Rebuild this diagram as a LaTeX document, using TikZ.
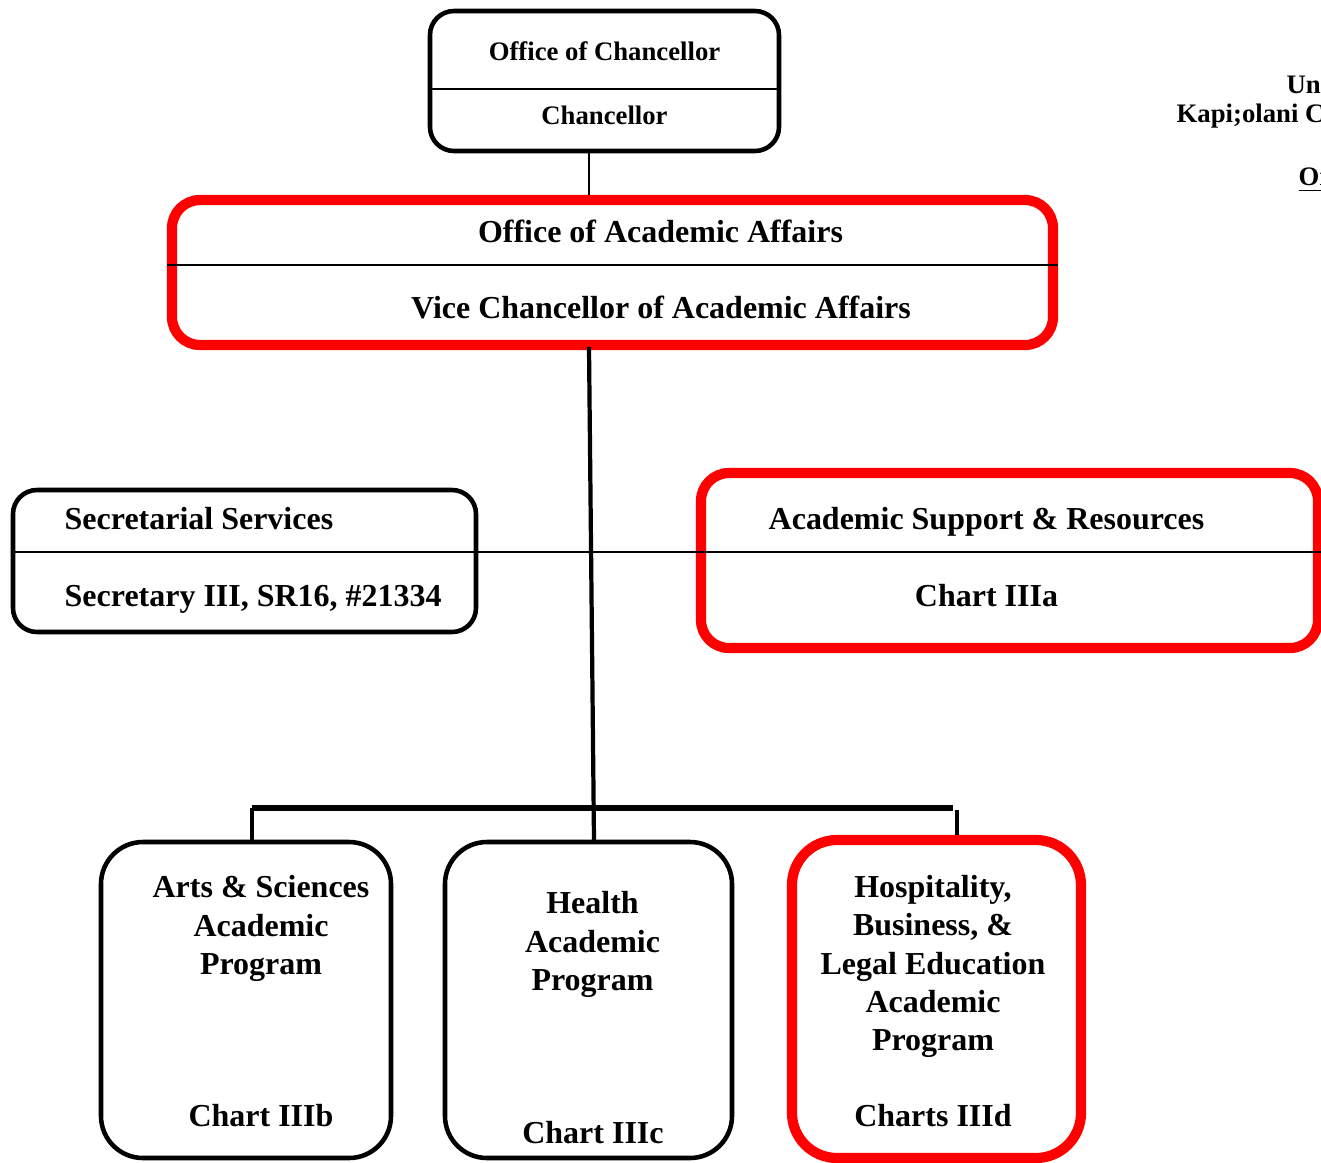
\documentclass[tikz,border=0pt]{standalone}
\usepackage{fontspec}
\setmainfont{Liberation Serif}
\usetikzlibrary{calc}
\definecolor{chartred}{RGB}{255,0,0}
\tikzset{
  blackbox/.style={draw=black, line width=1.3pt, rounded corners=0.24cm, inner sep=0pt},
  redbox/.style={draw=chartred, line width=2.9pt, rounded corners=0.28cm, inner sep=0pt},
  bigtxt/.style={font=\bfseries\fontsize{9.1}{10.9}\selectfont, inner sep=0pt, align=center},
  smalltxt/.style={font=\bfseries\fontsize{7.6}{9}\selectfont, inner sep=0pt},
  divider/.style={line width=0.55pt},
}
\begin{document}
\begin{tikzpicture}
		%%%%% START %%%%%
		\useasboundingbox (0, 0) rectangle (13.21, -11.62);
		
		\node[blackbox, minimum width=3.49cm, minimum height=1.40cm] (chanc) at (6.045, -0.81) {};
		\node[redbox, minimum width=8.81cm, minimum height=1.45cm] (oaa) at (6.125, -2.725) {};
		\node[blackbox, minimum width=4.63cm, minimum height=1.42cm] (sec) at (2.445, -5.61) {};
		\node[redbox, minimum width=6.17cm, minimum height=1.75cm] (asr) at (10.095, -5.605) {};
		\node[blackbox, rounded corners=0.42cm, minimum width=2.90cm, minimum height=3.16cm] (arts) at (2.46, -10.0) {};
		\node[blackbox, rounded corners=0.42cm, minimum width=2.87cm, minimum height=3.16cm] (health) at (5.885, -10.0) {};
		\node[redbox, rounded corners=0.45cm, minimum width=2.89cm, minimum height=3.18cm] (hosp) at (9.365, -9.99) {};
		
		\draw[divider] (chanc.west |- 0, -0.89) -- (chanc.east |- 0, -0.89);
		\draw[divider] (oaa.west |- 0, -2.65) -- (oaa.east |- 0, -2.65);
		\draw[divider] (sec.west |- 0, -5.52) -- (13.21, -5.52);
		
		\node[smalltxt] (chanctitle) at (6.045, -0.51) {Office of Chancellor};
		\node[smalltxt] (chancname) at (6.045, -1.15) {Chancellor};
		\node[bigtxt] (oaatitle) at (6.605, -2.31) {Office of Academic Affairs};
		\node[bigtxt] (oaaname) at (6.61, -3.07) {Vice Chancellor of Academic Affairs};
		\node[bigtxt, anchor=west] (sectitle) at (0.64, -5.19) {Secretarial Services};
		\node[bigtxt, anchor=west] (secname) at (0.64, -5.99) {Secretary III, SR16, \#21334};
		\node[bigtxt] (asrtitle) at (9.865, -5.22) {Academic Support \& Resources};
		\node[bigtxt] (asrname) at (9.865, -5.96) {Chart IIIa};
		\node[bigtxt] (artstitle) at (2.61, -9.285) {Arts \& Sciences\\Academic\\Program};
		\node[bigtxt] (artschart) at (2.61, -11.16) {Chart IIIb};
		\node[bigtxt] (healthtitle) at (5.925, -9.445) {Health\\Academic\\Program};
		\node[bigtxt] (healthchart) at (5.93, -11.33) {Chart IIIc};
		\node[bigtxt] (hosptitle) at (9.33, -9.665) {Hospitality,\\Business, \&\\Legal Education\\Academic\\Program};
		\node[bigtxt] (hospchart) at (9.33, -11.16) {Charts IIId};
		
		\node[smalltxt, anchor=west] (head1) at (12.86, -0.84) {Uni};
		\node[smalltxt, anchor=west] (head2) at (11.76, -1.16) {Kapi;olani C};
		\node[smalltxt, anchor=west] (head3) at (12.98, -1.80) {\underline{Or}};
		
		\coordinate (stem) at (5.89, -1.51);
		\coordinate (trunktop) at (5.89, -3.47);
		\coordinate (trunkbot) at (5.94, -8.40);
		\coordinate (busL) at (2.52, -8.08);
		\coordinate (busR) at (9.53, -8.08);
		\coordinate (dropR) at (9.57, -8.10);
		
		\draw[divider] (stem) -- (stem |- oaa.north);
		\draw[line width=1.2pt] (trunktop) -- (trunkbot);
		\draw[line width=1.45pt] (busL) -- (busR);
		\draw[line width=1.2pt] (busL) -- (busL |- arts.north);
		\draw[line width=1.2pt] (dropR) -- (dropR |- hosp.north);
		%%%%% END %%%%%
\end{tikzpicture}
\end{document}
